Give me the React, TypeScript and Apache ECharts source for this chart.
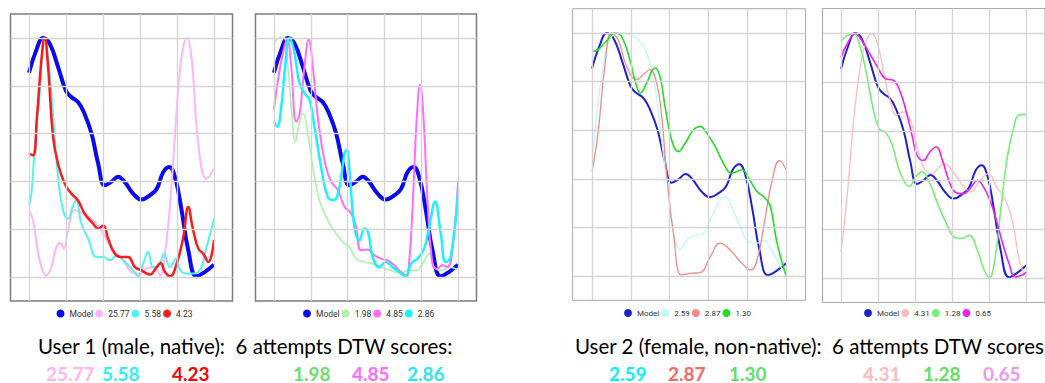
import React, { useEffect, useRef } from "react";
import * as echarts from "echarts";

type P = [number, number][];

// Shared model contour (normalised pitch, 0..100)
const model: P = [[0,85.4],[4,95],[7.6,100],[11.2,97.6],[15.7,87.9],[19.9,78],[22.5,75.5],[26.5,73.2],[30,68.3],[33.8,60],[37.4,47.4],[41,38.4],[44.6,39.9],[48.2,42],[51.8,39.7],[56.3,34.9],[60.8,32.4],[65.3,34.2],[69,36.8],[72.6,43.9],[75.8,46],[78.9,41.8],[82.5,27.9],[86.1,11.2],[90.6,0.3],[95,2.1],[100,5.2]];

// User 1, panel 1
const u1a: P = [[0,27.9],[2.2,23.7],[5.8,7],[9.4,0.7],[12.1,4.2],[14.8,12.6],[17,14.2],[18.8,11.9],[21.1,19.5],[24.7,27.9],[29.2,26.5],[34.7,23.7],[40.1,18.1],[45.5,11.2],[50.9,7],[55.4,2.1],[60,1.4],[63.5,3.5],[68,4.2],[70.8,0.7],[73.5,9.8],[76.4,32],[79,60],[81.8,88],[85.4,100],[88,90.7],[91.5,55.8],[96,41.1],[100,45.3]];
const u1b: P = [[0,30],[1.3,34.9],[3,53],[5.8,76.7],[8.3,100],[10.3,92],[13,68],[15.7,41.8],[18.4,27.9],[21.1,24.4],[23.8,30],[25.6,32],[28.3,22.3],[32,16],[36.5,8.4],[40.1,8.4],[43.7,7],[47.3,9],[51.8,6.3],[56.3,2.8],[59,0.3],[61.7,5.6],[64.4,10.5],[67.1,4.2],[69.8,4.2],[72.9,9.8],[76.2,4.2],[79.4,7.7],[82.5,2.1],[87,1.4],[91.5,2.1],[96,12.6],[100,24.4]];
const u1c: P = [[0,51.6],[2.2,50.9],[4.3,67],[6.7,90.7],[8.5,100],[10.3,87.9],[13,58.6],[15.7,47.4],[19.3,39],[22.9,34.9],[26.5,32],[30.1,26.5],[34.7,22.3],[37.4,20.2],[40.1,21.6],[42.8,16],[46.4,9.8],[50,8.4],[53.6,8.4],[57.2,4.2],[60.8,2.8],[65.3,1.1],[69,4.2],[71.1,5.9],[73.5,2.1],[76.2,0.3],[79.8,5.6],[83.4,16.7],[86.1,29.3],[88.4,20.9],[91.5,11.9],[94.2,9.8],[96.9,6.3],[100,15.6]];

// User 1, panel 2
const u1d: P = [[0,97.2],[3,100],[5.4,100],[7.6,88],[9.7,68.5],[11.6,56.6],[13.4,62.9],[15.7,68.5],[18.4,60],[21.1,46],[24.7,32],[29.2,23.8],[33.8,18.2],[38.3,14],[41,12.6],[44.6,7.7],[49.1,6.3],[53.6,5.6],[58.1,4.2],[63.5,2.8],[69,1.7],[72.6,2.8],[77,2.8],[80.7,5.6],[84.3,9.8],[87,4.2],[90.6,2.8],[95.1,4.2],[100,3]];
const u1e: P = [[0,69.9],[2.2,82.5],[4.9,93.7],[7.2,99.6],[9.4,88],[12.1,65],[13.9,67.8],[16.6,88],[18.9,99.3],[21.1,88],[23.8,67],[27.4,49],[31,39.9],[34.7,36.4],[38.3,29.4],[41.9,26.6],[44.6,21],[47.3,11.2],[50.9,11.5],[54.5,9.1],[58.1,7.7],[61.7,7],[65.3,4.9],[69,2.1],[71.7,0.7],[73.5,7],[75.3,29.4],[77.6,67],[79.4,80.4],[81.2,67],[83.4,32.2],[86.1,5.6],[88.4,3.5],[91.5,4.9],[94.2,4.2],[96.9,11.2],[100,39.9]];
const u1f: P = [[0,65],[1.8,62.9],[4,71.3],[6.1,88],[8.5,100],[10.8,95.1],[13.9,81.1],[16.6,76.9],[19.3,74.1],[22,62.9],[25.6,46.2],[29.2,33.6],[32.5,32.2],[35.6,37.8],[38.3,51.7],[39.5,53],[41,44.8],[43.7,21],[46.4,15.4],[49.1,20.3],[51.3,18.2],[53.6,8.4],[57.2,4.2],[60.8,6.3],[64.4,4.2],[68,2.1],[71.7,0.3],[74.4,5.6],[78,7.7],[81.6,11.9],[84.3,21],[87.5,31.5],[90.6,18.2],[93.3,6.3],[96,8.4],[100,36.4]];

// User 2, panel 3
const u2a: P = [[0,45],[5.7,86.3],[10.9,99.3],[15.2,100],[19.5,99.3],[24.7,96.6],[29,89.7],[32.4,78],[35,61.5],[38.4,39.6],[41.9,19],[45.3,11],[49.7,15.5],[54,16.8],[57.4,17.6],[61.7,24.5],[66,31.3],[68.6,32.7],[71.2,29.9],[76.4,20.3],[80.7,14.1],[85,13.5],[88.4,14.8],[91.9,11.4],[96.2,5.2],[100,0.4]];
const u2b: P = [[0,43],[3.1,58.8],[6.6,86.3],[10,100],[13.4,97.3],[17.8,86.3],[22.9,80.8],[26.4,82.8],[29.8,84.9],[33.3,79.4],[35.9,65.7],[38.4,42.3],[41.9,17.6],[46.2,0.4],[50.5,1.1],[55.7,1.4],[60.9,8],[66,13.5],[71.2,10.7],[77.2,5.2],[81.9,2.5],[85,6.6],[88.4,20.3],[92.8,39.6],[96.6,47.5],[100,43.7]];
const u2c: P = [[0,92.4],[3.1,93.1],[7.4,96.6],[11.7,100],[15.2,98.6],[19.5,89],[22,80.8],[25,75.3],[28.1,79.4],[32.4,85.6],[35,82.1],[37.6,69.8],[41,56],[44.5,51.2],[47.9,54.6],[52.2,60.1],[55.7,61.5],[59.1,58.8],[63.4,53.3],[67.7,46.4],[72,42.3],[77.2,43.7],[80.7,40.2],[85,34.8],[89.3,32],[91.9,28.6],[95.3,13.5],[100,0]];

// User 2, panel 4
const u2d: P = [[0,10.6],[3.4,34.4],[6.8,64.4],[10.3,86.1],[13.7,97],[16.6,99.7],[19.7,95.6],[23.1,83.4],[26.5,72.5],[29.9,66.4],[33.3,67.8],[36.8,65.7],[40.2,56.2],[44.4,45.3],[48.7,42.6],[52.1,44.6],[55.6,46.7],[59.8,44],[65,38.5],[70.1,35.1],[74.4,39.2],[79.5,42.6],[83.8,37.1],[88,33.1],[92.3,23.5],[96.6,5.9],[100,0.4]];
const u2e: P = [[0,96.7],[3.4,99],[6.8,99.7],[10.3,94.3],[13.7,83.4],[17.1,69.8],[20.5,61],[23.9,59.6],[27.4,54.8],[30.8,45.3],[34.2,39.2],[36.8,37.4],[40.2,41.2],[43.6,43.3],[47.9,38.5],[52.1,30.3],[56.4,22.9],[61.5,16.5],[65,16.1],[69.2,17.4],[73.5,11.3],[76.9,3.8],[80,0.1],[82.9,7.2],[86.3,29],[89.7,49.4],[93.2,61.6],[95.7,66.4],[100,66.8]];
const u2f: P = [[0,90],[3.4,95.6],[7.7,99.7],[11.1,97],[15.4,91.6],[19.7,86.1],[23.9,81.4],[28.2,80.7],[31.6,76.6],[35,68.4],[38.5,57.5],[41,50],[44.4,48],[47.9,51.4],[51.3,53.5],[54.7,48],[58.1,39.9],[61.5,35.1],[65.8,34.4],[70.1,37.1],[73.5,39.9],[76.9,37.1],[80.3,31.7],[83.8,23.5],[87.2,14],[90.6,5.9],[94,0.4],[97.4,1.1],[100,2.4]];

const gridTicks = [0, 20, 40, 60, 80, 100];
const labels1 = ["25.77", "5.58", "4.23"];
const labels2 = ["1.98", "4.85", "2.86"];
const labels3 = ["2.59", "2.87", "1.30"];
const labels4 = ["4.31", "1.28", "0.65"];

const caption1 = "User 1 (male, native):  6 attempts DTW scores:";
const caption2 = "User 2 (female, non-native):  6 attempts DTW scores";

interface Panel {
  grid: { left: number; top: number; width: number; height: number };
  border: string;
  borderWidth: number;
  legendLeft: number;
  legendFont: number;
  modelColor: string;
  modelWidth: number;
  names: string[];
  data: P[];
  colors: string[];
  widths: number[];
}

const panels: Panel[] = [
  {
    grid: { left: 10.5, top: 14, width: 222, height: 287 },
    border: "#7c7c7c", borderWidth: 1.5, legendLeft: 56.5, legendFont: 8.5,
    modelColor: "#0a0aee", modelWidth: 4,
    names: labels1, data: [u1a, u1b, u1c],
    colors: ["#ffb6f2", "#55f2f2", "#ff1a1a"], widths: [2, 2, 2.5],
  },
  {
    grid: { left: 255.5, top: 14, width: 221, height: 287 },
    border: "#7c7c7c", borderWidth: 1.5, legendLeft: 303, legendFont: 8.5,
    modelColor: "#0a0aee", modelWidth: 4,
    names: labels2, data: [u1d, u1e, u1f],
    colors: ["#aef2ae", "#ff6cff", "#1ef0ff"], widths: [1.6, 2, 2.5],
  },
  {
    grid: { left: 572.6, top: 8.7, width: 233, height: 291.6 },
    border: "#a8a8a8", borderWidth: 1, legendLeft: 624, legendFont: 8,
    modelColor: "#2020d0", modelWidth: 2,
    names: labels3, data: [u2a, u2b, u2c],
    colors: ["#c0f8f8", "#f28a8a", "#22dd22"], widths: [1.3, 1.3, 1.6],
  },
  {
    grid: { left: 822.5, top: 8.5, width: 234, height: 294 },
    border: "#a8a8a8", borderWidth: 1, legendLeft: 864, legendFont: 8,
    modelColor: "#2020d0", modelWidth: 2,
    names: labels4, data: [u2d, u2e, u2f],
    colors: ["#ffbcbc", "#77ee77", "#ee22ee"], widths: [1.3, 1.6, 1.6],
  },
];

const scoreRows = [
  { x: [46, 102, 172, 293, 352, 407], names: [...labels1, ...labels2], colors: ["#ffb6f2", "#33f0f6", "#ff0000", "#6ede6e", "#ff6cff", "#33e4f2"] },
  { x: [609, 668, 729, 863, 923, 983], names: [...labels3, ...labels4], colors: ["#11eeff", "#ff6666", "#66dd66", "#ffbbbb", "#66dd66", "#ee99ee"] },
];

export default function App() {
  const ref = useRef<HTMLDivElement>(null);
  useEffect(() => {
    if (!ref.current) return;
    const chart = echarts.init(ref.current, undefined, { renderer: "svg" });
    const grids: any[] = [];
    const xAxes: any[] = [];
    const yAxes: any[] = [];
    const legends: any[] = [];
    const series: any[] = [];
    panels.forEach((p, i) => {
      grids.push({ ...p.grid, show: true, borderColor: p.border, borderWidth: p.borderWidth, backgroundColor: "#fff", containLabel: false });
      const ax = { type: "value", gridIndex: i, min: -10, max: 110, axisLine: { show: false }, axisTick: { show: false }, axisLabel: { show: false }, splitLine: { show: false } };
      xAxes.push({ ...ax });
      yAxes.push({ ...ax });
      series.push({
        type: "line", xAxisIndex: i, yAxisIndex: i, data: [[0, 0]], symbol: "none", z: 1, silent: true,
        lineStyle: { opacity: 0 },
        markLine: {
          silent: true, symbol: "none", animation: false, label: { show: false },
          lineStyle: { color: "#d4d4d4", width: 1.3, type: "solid" },
          data: [...gridTicks.map((v) => ({ xAxis: v })), ...gridTicks.map((v) => ({ yAxis: v }))],
        },
      });
      const mk = (name: string, data: P, color: string, width: number, z: number) => ({
        type: "line", name, xAxisIndex: i, yAxisIndex: i, data, smooth: 0.45, symbol: "none", z,
        itemStyle: { color }, lineStyle: { color, width },
      });
      p.names.forEach((n, k) => series.push(mk(n, p.data[k], p.colors[k], p.widths[k], 3)));
      series.push(mk("Model", model, p.modelColor, p.modelWidth, 2));
      legends.push({
        left: p.legendLeft, top: 309, padding: 0, itemWidth: 8, itemHeight: 8, itemGap: 2, icon: "circle", selectedMode: false,
        textStyle: { fontSize: p.legendFont, color: "#333", fontFamily: "Roboto" },
        data: [
          { name: "Model", itemStyle: { color: p.modelColor } },
          ...p.names.map((n, k) => ({ name: n, itemStyle: { color: p.colors[k] } })),
        ],
      });
    });
    const graphics: any[] = [
      { type: "text", x: 38, y: 346, style: { text: caption1, fontSize: 20.5, fontFamily: "Lato", fill: "#000", verticalAlign: "middle" } },
      { type: "text", x: 575, y: 346, style: { text: caption2, fontSize: 20.5, fontFamily: "Lato", fill: "#000", verticalAlign: "middle" } },
    ];
    scoreRows.forEach((r) =>
      r.names.forEach((n, k) =>
        graphics.push({ type: "text", x: r.x[k], y: 373, style: { text: n, fontSize: 19, fontWeight: "bold", fontFamily: "Lato", fill: r.colors[k], verticalAlign: "middle" } })
      )
    );
    chart.setOption({
      animation: false,
      backgroundColor: "#fff",
      grid: grids,
      xAxis: xAxes,
      yAxis: yAxes,
      legend: legends,
      series,
      graphic: graphics,
    });
    return () => chart.dispose();
  }, []);
  return <div ref={ref} style={{ position: "fixed", left: 0, top: 0, width: 1045, height: 383 }} />;
}
